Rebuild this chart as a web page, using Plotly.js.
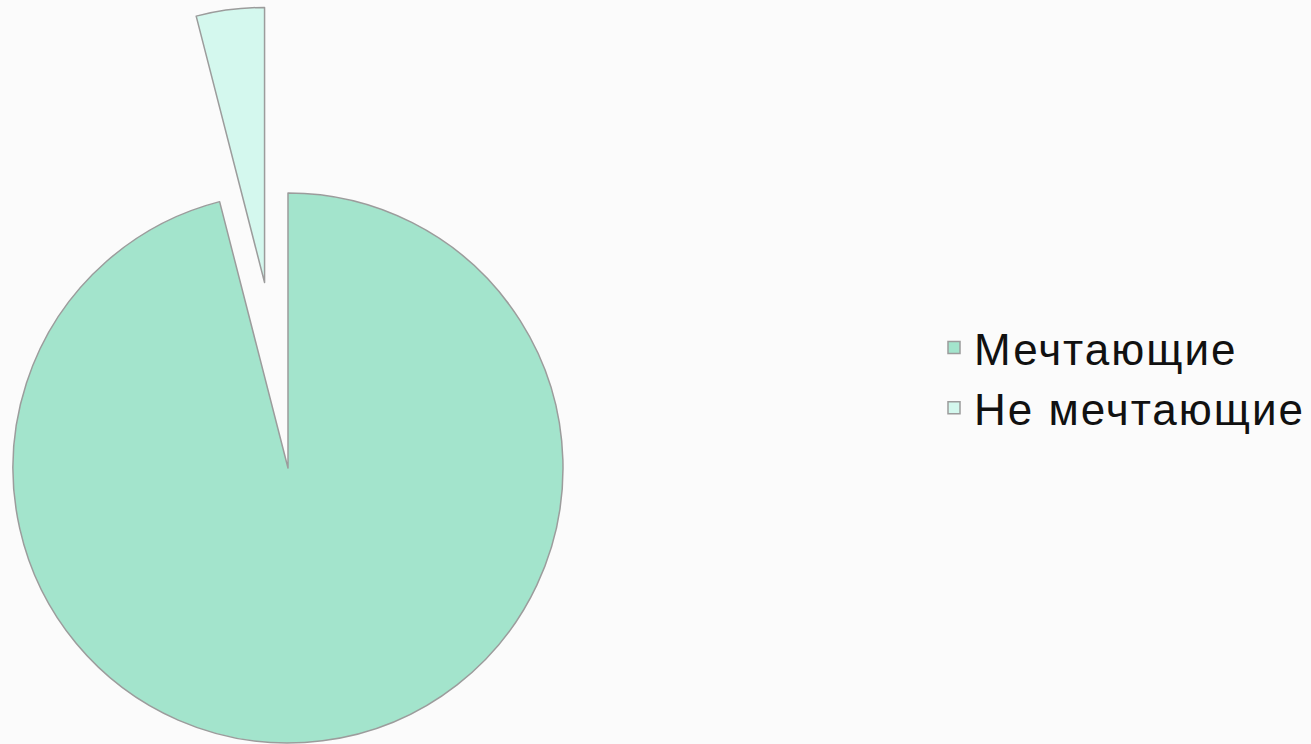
<!DOCTYPE html>
<html>
<head>
<meta charset="utf-8">
<script src="https://cdn.plot.ly/plotly-3.0.1.min.js"></script>
<style>
  html, body { margin: 0; padding: 0; width: 1311px; height: 744px; overflow: hidden; background: #fbfbfb; }
  #chart { position: absolute; left: -174px; top: 6px; width: 1485px; height: 924px; }
  #chart .legendtext { letter-spacing: 2px; }
</style>
</head>
<body>
<div id="chart"></div>
<script>
// Data
const categories = ["Мечтающие", "Не мечтающие"];
const shares = [96, 4];
const pulls = [0, 0.68];
const sliceColors = ["#a3e4cc", "#d4f8ee"];

const W = 1485, H = 924;

const trace = {
  type: "pie",
  labels: categories,
  values: shares,
  pull: pulls,
  sort: false,
  direction: "clockwise",
  rotation: 0,
  textinfo: "none",
  hoverinfo: "label+percent",
  marker: { colors: sliceColors, line: { color: "#9c9c9c", width: 1.5 } },
  domain: { x: [0, 924 / W], y: [0, 1] }
};

const layout = {
  width: W,
  height: H,
  margin: { l: 0, r: 0, t: 0, b: 0 },
  paper_bgcolor: "rgba(0,0,0,0)",
  plot_bgcolor: "rgba(0,0,0,0)",
  showlegend: true,
  legend: {
    x: 1108 / W,
    xanchor: "left",
    y: 1 - 372 / H,
    yanchor: "middle",
    bgcolor: "rgba(0,0,0,0)",
    font: { family: "Liberation Sans, Arial, sans-serif", size: 44, color: "#111111" }
  },
  font: { family: "Liberation Sans, Arial, sans-serif" }
};

Plotly.newPlot("chart", [trace], layout, { displayModeBar: false, staticPlot: true }).then(function (gd) {
  // letter-spacing widens the text beyond the legend's measured box; let it show in full
  gd.querySelectorAll(".legend .scrollbox, .legend").forEach(function (el) { el.removeAttribute("clip-path"); });
});
</script>
</body>
</html>
